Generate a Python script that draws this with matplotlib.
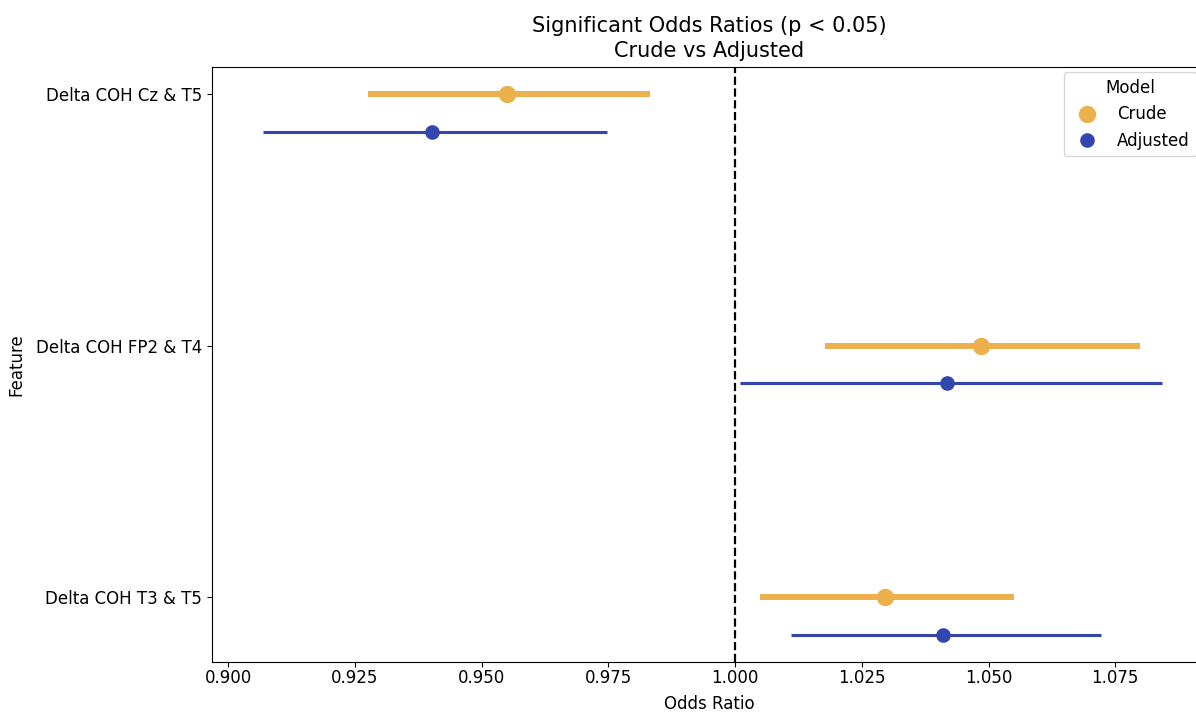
import matplotlib
matplotlib.use("Agg")
import matplotlib.pyplot as plt
from matplotlib.lines import Line2D

features = ["Delta COH Cz & T5", "Delta COH FP2 & T4", "Delta COH T3 & T5"]

crude_or = [0.9550, 1.0485, 1.0296]
crude_lo = [0.9276, 1.0178, 1.0049]
crude_hi = [0.9832, 1.0799, 1.0550]

adj_or = [0.9402, 1.0418, 1.0410]
adj_lo = [0.9069, 1.0010, 1.0110]
adj_hi = [0.9748, 1.0842, 1.0722]

crude_color = "#ECB04C"
adj_color = "#3346AE"


def main():
    plt.rcParams["font.size"] = 12
    fig = plt.figure(figsize=(11.96, 7.14), dpi=100)
    # axes run past the right edge, as in the cropped reference
    ax = fig.add_axes([212 / 1196, 52 / 714, (1207 - 212) / 1196, 595 / 714])

    ypos = list(range(len(features)))
    offset = 0.15
    for i in ypos:
        ax.hlines(i, crude_lo[i], crude_hi[i], color=crude_color, lw=4.3)
        ax.plot(crude_or[i], i, "o", color=crude_color, ms=11.5)
        ax.hlines(i + offset, adj_lo[i], adj_hi[i], color=adj_color, lw=2.2)
        ax.plot(adj_or[i], i + offset, "o", color=adj_color, ms=9.5)

    ax.axvline(1.0, color="black", ls="--", lw=1.6)
    ax.set_xlim(0.8968, 1.0931)
    ax.set_ylim(2.2575, -0.1075)
    ax.set_yticks(ypos)
    ax.set_yticklabels(features)
    ax.set_xticks([0.900, 0.925, 0.950, 0.975, 1.000, 1.025, 1.050, 1.075])
    ax.set_xticklabels(["0.900", "0.925", "0.950", "0.975", "1.000", "1.025", "1.050", "1.075"])
    ax.tick_params(axis="x", pad=1.5)
    ax.set_xlabel("Odds Ratio", labelpad=6)
    ax.set_ylabel("Feature")
    ax.yaxis.set_label_coords(-0.188, 0.5)
    ax.set_title("Significant Odds Ratios (p < 0.05)\nCrude vs Adjusted",
                 fontsize=15, linespacing=1.3, pad=7)

    handles = [
        Line2D([], [], ls="none", marker="o", color=crude_color, ms=11.5),
        Line2D([], [], ls="none", marker="o", color=adj_color, ms=9.5),
    ]
    fig.legend(handles, ["Crude", "Adjusted"], title="Model", loc="upper right",
               bbox_to_anchor=(1205 / 1196, 1 - 64 / 714), fontsize=12, title_fontsize=12)

    fig.savefig("out.png", dpi=100)


if __name__ == "__main__":
    main()
